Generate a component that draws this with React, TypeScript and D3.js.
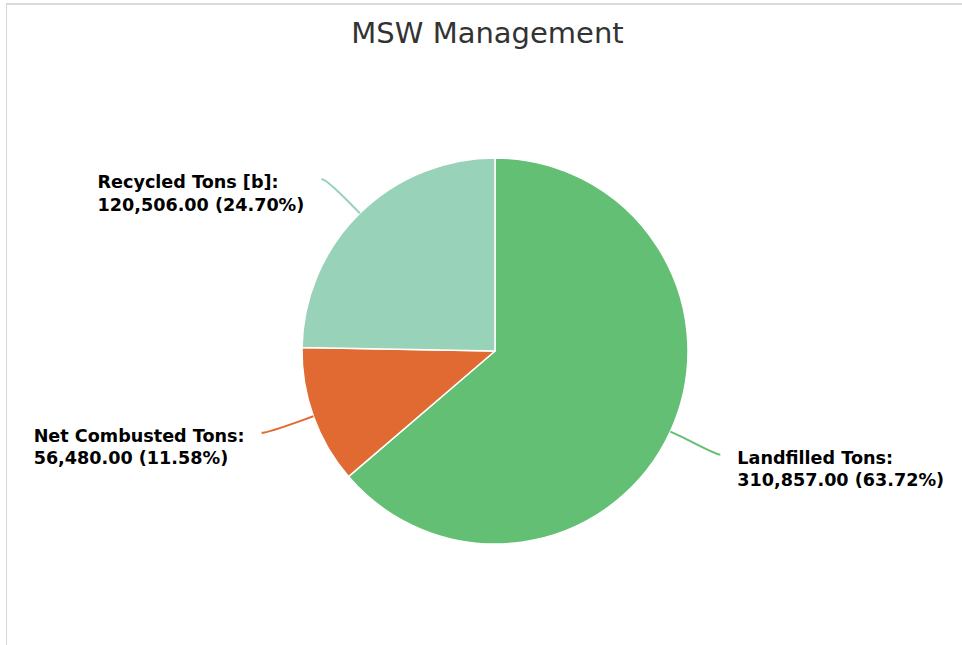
import React from "react";
import * as d3 from "d3";

const categories = ["Landfilled Tons", "Net Combusted Tons", "Recycled Tons [b]"];
const values = [310857, 56480, 120506];
const colors = ["#62bf73", "#e06a31", "#97d2b9"];
const title = "MSW Management";

const W = 962;
const H = 645;
const cx = 495;
const cy = 351;
const R = 193;
const labelDist = 55;
const labelNudgeY = [0, -2, 5];
const labelSize = 17.6;
const labelFont = `bold ${labelSize}px 'DejaVu Sans'`;

function measure(text: string): number {
  if (typeof document === "undefined") return text.length * 10;
  const c = document.createElement("canvas");
  const ctx = c.getContext("2d");
  if (!ctx) return text.length * 10;
  ctx.font = labelFont;
  return ctx.measureText(text).width;
}

export default function App() {
  const total = d3.sum(values);
  const pie = d3
    .pie<number>()
    .sort(null)
    .startAngle(0)
    .endAngle(2 * Math.PI)
    .value((d) => d);
  const arcs = pie(values);
  const arc = d3.arc<d3.PieArcDatum<number>>().innerRadius(0).outerRadius(R);
  const fmt = d3.format(",.2f");
  const pfmt = d3.format(".2f");

  return (
    <svg
      width={W}
      height={H}
      style={{ position: "absolute", left: 0, top: 0, background: "#fff" }}
      fontFamily="'DejaVu Sans', sans-serif"
    >
      <rect x={0} y={0} width={W} height={H} fill="#fff" />
      <line x1={6.5} y1={3} x2={6.5} y2={H} stroke="#d6d6d6" strokeWidth={1} />
      <line x1={6} y1={4} x2={W} y2={4} stroke="#d9d9d9" strokeWidth={2} />
      <text
        x={487.5}
        y={43}
        textAnchor="middle"
        fontSize={29}
        fill="#333333"
      >
        {title}
      </text>
      <g transform={`translate(${cx},${cy})`}>
        {arcs.map((a, i) => (
          <path key={i} d={arc(a) || ""} fill={colors[i]} stroke="#ffffff" strokeWidth={1.5} strokeLinejoin="round" />
        ))}
      </g>
      {arcs.map((a, i) => {
        const mid = (a.startAngle + a.endAngle) / 2;
        const dx = Math.sin(mid);
        const dy = -Math.cos(mid);
        const touch = [cx + R * dx, cy + R * dy];
        const brk = [cx + (R + 12) * dx, cy + (R + 12) * dy];
        const ctrl2 = [2 * brk[0] - touch[0], 2 * brk[1] - touch[1]];
        const lx = cx + (R + labelDist) * dx;
        const ly = cy + (R + labelDist) * dy + labelNudgeY[i];
        const right = dx >= 0;
        const c1x = lx + (right ? -5 : 5);
        const path = `M${lx},${ly} C${c1x},${ly} ${ctrl2[0]},${ctrl2[1]} ${brk[0]},${brk[1]} L${touch[0]},${touch[1]}`;
        const line1 = `${categories[i]}:`;
        const line2 = `${fmt(values[i])} (${pfmt((values[i] / total) * 100)}%)`;
        const boxW = Math.max(measure(line1), measure(line2));
        const tx = right ? lx + 17 : lx - 17 - boxW;
        return (
          <g key={"l" + i}>
            <path d={path} fill="none" stroke={colors[i]} strokeWidth={2} />
            <text
              x={tx}
              y={ly + 9}
              fontSize={labelSize}
              fontWeight="bold"
              fill="#000"
            >
              <tspan x={tx} dy={0}>{line1}</tspan>
              <tspan x={tx} dy={22.5}>{line2}</tspan>
            </text>
          </g>
        );
      })}
    </svg>
  );
}
